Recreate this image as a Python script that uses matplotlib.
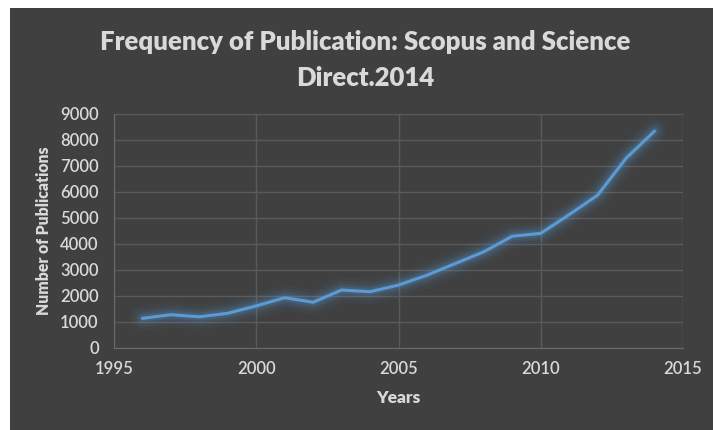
import matplotlib
matplotlib.use("Agg")
import matplotlib.pyplot as plt
from matplotlib.patches import Rectangle

years = [1996, 1997, 1998, 1999, 2000, 2001, 2002, 2003, 2004, 2005,
         2006, 2007, 2008, 2009, 2010, 2011, 2012, 2013, 2014]
publications = [1140, 1280, 1200, 1335, 1620, 1935, 1760, 2230, 2165, 2420,
                2800, 3250, 3700, 4300, 4410, 5130, 5880, 7300, 8340]
x_ticks = [1995, 2000, 2005, 2010, 2015]
y_ticks = [0, 1000, 2000, 3000, 4000, 5000, 6000, 7000, 8000, 9000]

title = "Frequency of Publication: Scopus and Science\nDirect.2014"
xlabel = "Years"
ylabel = "Number of Publications"

bg = "#404040"
txt = "#d9d9d9"
grid = "#5a5a5a"
line_c = "#5b9bd5"

plt.rcParams['font.family'] = ['Lato', 'DejaVu Sans']

fig = plt.figure(figsize=(7.13, 4.30), dpi=100)
fig.patch.set_facecolor(bg)
# white page margins (top strip and left strip)
fig.patches.append(Rectangle((0, 1 - 8 / 430), 1, 8 / 430,
                             transform=fig.transFigure, facecolor="white",
                             edgecolor="none", zorder=-1))
fig.patches.append(Rectangle((0, 0), 10 / 713, 1,
                             transform=fig.transFigure, facecolor="white",
                             edgecolor="none", zorder=-1))

ax = fig.add_axes([114 / 713, 1 - 348 / 430, (683 - 114) / 713, (348 - 114) / 430])
ax.set_facecolor(bg)

# glow
for lw, a in [(18, 0.05), (13, 0.07), (9, 0.1), (5.5, 0.16)]:
    ax.plot(years, publications, color=line_c, lw=lw, alpha=a,
            solid_capstyle="round", solid_joinstyle="round", zorder=3)
ax.plot(years, publications, color=line_c, lw=2.2, zorder=4,
        solid_capstyle="round", solid_joinstyle="round")

ax.set_xlim(1995, 2015)
ax.set_ylim(0, 9000)
ax.set_xticks(x_ticks)
ax.set_yticks(y_ticks)
ax.grid(True, color=grid, lw=1)
ax.set_axisbelow(True)
for s in ax.spines.values():
    s.set_visible(False)
ax.spines['left'].set_visible(True)
ax.spines['left'].set_color("#6a6a6a")
ax.spines['bottom'].set_visible(True)
ax.spines['bottom'].set_color("#6a6a6a")
ax.tick_params(length=0, colors=txt, labelsize=12)
ax.tick_params(axis='y', pad=11)
ax.tick_params(axis='x', pad=9)
for lab in ax.get_xticklabels() + ax.get_yticklabels():
    lab.set_fontweight("semibold")

ax.set_xlabel(xlabel, color=txt, fontsize=12.5, fontweight="heavy", labelpad=10)
ax.set_ylabel(ylabel, color=txt, fontsize=11.3, fontweight="heavy", labelpad=6)

fig.text(365 / 713, 1 - 60 / 430, title, ha="center", va="center",
         color=txt, fontsize=18.5, fontweight="heavy", linespacing=1.55)

fig.savefig("out.png", dpi=100, facecolor=fig.get_facecolor())
